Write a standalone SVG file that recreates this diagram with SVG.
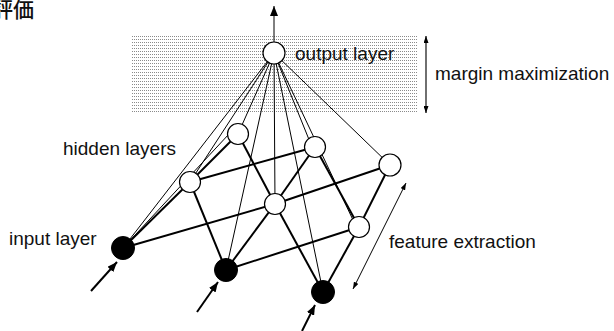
<svg xmlns="http://www.w3.org/2000/svg" width="614" height="331" viewBox="0 0 614 331">
  <style>
    .lbl { font-family: "Liberation Sans", Arial, sans-serif; font-size: 19px; fill: #111; }
    .cjk { font-family: "Noto Sans CJK JP", "Noto Sans CJK SC", sans-serif; font-size: 21px; font-weight: 500; fill: #111; }
    .thin { stroke: #000; stroke-width: 1; fill: none; }
    .thick { stroke: #000; stroke-width: 2; fill: none; }
    .node { fill: #fff; stroke: #000; stroke-width: 1.2; }
    .in { fill: #000; stroke: #000; stroke-width: 1; }
  </style>
  <defs>
    <pattern id="dots" width="2" height="3" patternUnits="userSpaceOnUse">
      <rect x="0" y="0" width="1" height="1" fill="#8a8a8a"/>
    </pattern>
    <marker id="head" viewBox="0 0 10 8" refX="10" refY="4" markerWidth="10" markerHeight="8" markerUnits="userSpaceOnUse" orient="auto-start-reverse">
      <path d="M0,0 L10,4 L0,8 z" fill="#000"/>
    </marker>
    <marker id="tip" viewBox="0 0 7 5" refX="7" refY="2.5" markerWidth="7" markerHeight="5" markerUnits="userSpaceOnUse" orient="auto-start-reverse">
      <path d="M0,0 L7,2.5 L0,5 z" fill="#000"/>
    </marker>
  </defs>

  <!-- title, running off the left edge -->
  <text class="cjk" x="-8" y="17">評価</text>

  <!-- margin band behind the output layer -->
  <rect id="margin-band" x="132" y="34" width="285" height="80" fill="url(#dots)"/>

  <g id="connectors">
    <!-- output to every lower node -->
    <line class="thin" x1="274" y1="53" x2="123" y2="248"/>
    <line class="thin" x1="274" y1="53" x2="190" y2="182"/>
    <line class="thin" x1="274" y1="53" x2="238" y2="134"/>
    <line class="thin" x1="274" y1="53" x2="226" y2="270"/>
    <line class="thin" x1="274" y1="53" x2="275" y2="204"/>
    <line class="thin" x1="274" y1="53" x2="323" y2="292"/>
    <line class="thin" x1="274" y1="53" x2="312" y2="147"/>
    <line class="thin" x1="274" y1="53" x2="353" y2="220"/>
    <line class="thin" x1="274" y1="53" x2="390" y2="165"/>
    <line class="thin" x1="123" y1="248" x2="229" y2="134"/>

    <!-- input to first hidden layer -->
    <line class="thick" x1="123" y1="248" x2="190" y2="182"/>
    <line class="thick" x1="123" y1="248" x2="275" y2="204"/>
    <line class="thick" x1="226" y1="270" x2="190" y2="182"/>
    <line class="thick" x1="226" y1="270" x2="275" y2="204"/>
    <line class="thick" x1="226" y1="270" x2="359" y2="227"/>
    <line class="thick" x1="323" y1="292" x2="275" y2="204"/>
    <line class="thick" x1="323" y1="292" x2="359" y2="227"/>

    <!-- first hidden layer to second hidden layer -->
    <line class="thick" x1="190" y1="182" x2="238" y2="134"/>
    <line class="thick" x1="190" y1="182" x2="315" y2="147"/>
    <line class="thick" x1="275" y1="204" x2="238" y2="134"/>
    <line class="thick" x1="275" y1="204" x2="315" y2="147"/>
    <line class="thick" x1="275" y1="204" x2="390" y2="165"/>
    <line class="thick" x1="359" y1="227" x2="315" y2="147"/>
    <line class="thick" x1="359" y1="227" x2="390" y2="165"/>

    <!-- output arrow -->
    <line class="thin" x1="274" y1="42" x2="274" y2="6" marker-end="url(#head)"/>

    <!-- input arrows -->
    <line class="thick" x1="91" y1="291" x2="117" y2="262" marker-end="url(#head)"/>
    <line class="thick" x1="197" y1="312" x2="218" y2="282" marker-end="url(#head)"/>
    <line class="thick" x1="302" y1="331" x2="315" y2="305" marker-end="url(#head)"/>

    <!-- margin and feature extraction arrows -->
    <line x1="426" y1="36" x2="426" y2="113" stroke="#333" stroke-width="1.4" marker-start="url(#tip)" marker-end="url(#tip)"/>
    <line class="thin" x1="406" y1="183" x2="353" y2="289" marker-start="url(#tip)" marker-end="url(#tip)"/>
  </g>

  <g id="output"><circle class="node" cx="274" cy="53" r="11"/></g>

  <g id="hidden-a"><circle class="node" cx="238" cy="134" r="10.5"/></g>
  <g id="hidden-b"><circle class="node" cx="315" cy="147" r="10.5"/></g>
  <g id="hidden-c"><circle class="node" cx="390" cy="165" r="11"/></g>
  <g id="hidden-d"><circle class="node" cx="190" cy="182" r="10.5"/></g>
  <g id="hidden-e"><circle class="node" cx="275" cy="204" r="10.5"/></g>
  <g id="hidden-f"><circle class="node" cx="359" cy="227" r="10.5"/></g>

  <g id="input-1"><circle class="in" cx="123" cy="248" r="11.5"/></g>
  <g id="input-2"><circle class="in" cx="226" cy="270" r="11.5"/></g>
  <g id="input-3"><circle class="in" cx="323" cy="292" r="11.5"/></g>

  <!-- labels -->
  <text class="lbl" x="295" y="60">output layer</text>
  <text class="lbl" x="435" y="80">margin maximization</text>
  <text class="lbl" x="63" y="155">hidden layers</text>
  <text class="lbl" x="9" y="245">input layer</text>
  <text class="lbl" x="389" y="248">feature extraction</text>
</svg>
